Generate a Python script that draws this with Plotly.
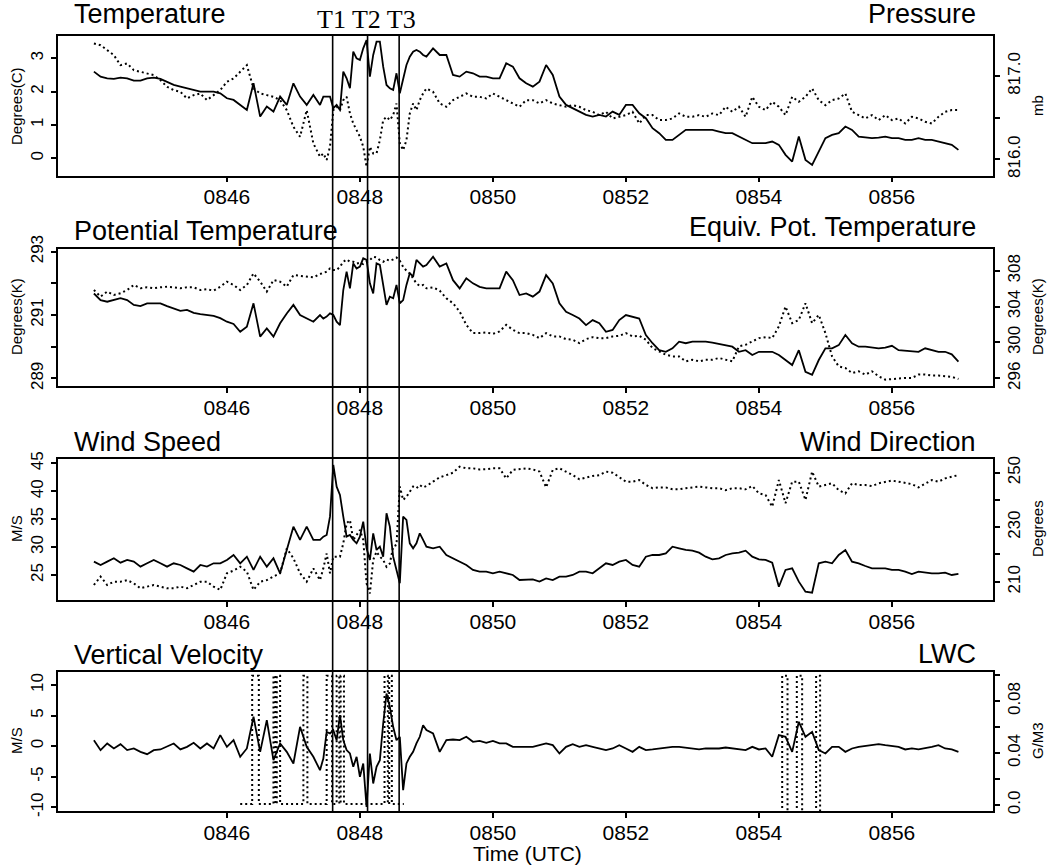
import numpy as np
import plotly.graph_objects as go

# ---------------- data (time in minutes after 08:00 UTC) ----------------
time_min = np.round(np.concatenate([
    np.arange(44.0, 47.41, 0.1),     # 35 samples
    np.arange(47.45, 49.01, 0.05),   # 32 samples
    np.arange(49.1, 57.01, 0.1),     # 80 samples
]), 2)

x_tick_vals = [46, 48, 50, 52, 54, 56]
x_tick_text = ["0846", "0848", "0850", "0852", "0854", "0856"]
event_times = [47.59, 48.115, 48.59]   # T1, T2, T3

temperature_c = [
    2.6, 2.45, 2.4, 2.38, 2.42, 2.4, 2.33, 2.33, 2.4, 2.42,
    2.38, 2.3, 2.2, 2.15, 2.1, 2.05, 2.0, 2.0, 2.0, 1.95,
    1.8, 1.75, 1.6, 1.45, 2.25, 1.25, 1.55, 1.4, 1.85, 1.6,
    2.25, 1.85, 1.6, 1.9, 1.6,
    1.85, 1.85, 1.85, 1.5, 1.6, 1.45, 2.6, 2.4, 2.1, 3.2,
    3.0, 2.95, 3.3, 3.55, 2.45, 3.1, 3.5, 3.5, 2.75, 2.2,
    2.1, 2.05, 2.55, 1.95, 2.4, 2.8, 3.05, 3.2, 3.25, 3.2,
    3.1, 3.05,
    3.3, 3.1, 3.1, 2.5, 2.45, 2.6, 2.55, 2.45, 2.45, 2.4,
    2.4, 2.85, 2.75, 2.4, 2.25, 2.15, 2.3, 2.8, 2.5, 1.85,
    1.6, 1.5, 1.4, 1.3, 1.25, 1.3, 1.25, 1.4, 1.3, 1.6,
    1.6, 1.35, 1.2, 0.9, 0.75, 0.55, 0.55, 0.7, 0.85, 0.85,
    0.85, 0.85, 0.85, 0.8, 0.75, 0.75, 0.65, 0.55, 0.45, 0.45,
    0.45, 0.5, 0.4, 0.1, -0.1, 0.65, -0.05, -0.2, 0.2, 0.6,
    0.7, 0.75, 0.95, 0.85, 0.65, 0.62, 0.6, 0.62, 0.65, 0.6,
    0.6, 0.55, 0.55, 0.6, 0.55, 0.55, 0.5, 0.45, 0.4, 0.25,
]

pressure_mb = [
    817.39, 817.37, 817.31, 817.25, 817.13, 817.15, 817.07, 817.05, 817.03, 817.01,
    816.95, 816.87, 816.83, 816.81, 816.73, 816.77, 816.79, 816.71, 816.77, 816.83,
    816.93, 816.97, 817.05, 817.13, 816.85, 816.79, 816.77, 816.75, 816.71, 816.59,
    816.39, 816.27, 816.59, 816.19, 816.03,
    816.07, 815.99, 816.15, 816.59, 816.63, 816.59, 816.71, 816.75, 816.55, 816.43,
    816.35, 816.27, 816.15, 815.91, 816.15, 816.07, 816.07, 816.23, 816.47, 816.51,
    816.47, 816.53, 816.67, 816.19, 816.11, 816.23, 816.55, 816.67, 816.59, 816.71,
    816.79, 816.85,
    816.81, 816.67, 816.63, 816.71, 816.75, 816.79, 816.75, 816.75, 816.73, 816.79,
    816.75, 816.71, 816.67, 816.63, 816.71, 816.71, 816.67, 816.71, 816.67, 816.65,
    816.63, 816.65, 816.63, 816.59, 816.57, 816.53, 816.57, 816.49, 816.51, 816.53,
    816.57, 816.43, 816.53, 816.53, 816.47, 816.47, 816.49, 816.55, 816.51, 816.51,
    816.53, 816.51, 816.55, 816.53, 816.63, 816.57, 816.63, 816.51, 816.75, 816.63,
    816.59, 816.69, 816.63, 816.53, 816.75, 816.69, 816.75, 816.85, 816.71, 816.65,
    816.71, 816.73, 816.79, 816.57, 816.53, 816.49, 816.53, 816.47, 816.53, 816.47,
    816.49, 816.43, 816.51, 816.49, 816.45, 816.43, 816.51, 816.57, 816.59, 816.59,
]

pot_temp_k = [
    291.68, 291.47, 291.42, 291.47, 291.53, 291.47, 291.32, 291.28, 291.37, 291.37,
    291.37, 291.28, 291.21, 291.13, 291.16, 291.07, 291.03, 291.0, 290.97, 290.9,
    290.79, 290.72, 290.47, 290.63, 291.37, 290.32, 290.58, 290.32, 290.74, 291.05,
    291.32, 291.0, 290.9, 290.79, 291.0,
    290.89, 290.95, 291.05, 291.0, 290.79, 290.68, 291.79, 292.37, 291.84, 292.63,
    292.47, 292.53, 292.79, 292.74, 292.0, 291.68, 292.63, 292.58, 291.89, 291.32,
    291.58, 291.53, 291.95, 291.37, 291.47, 291.95, 292.32, 292.21, 292.74, 292.63,
    292.53, 292.58,
    292.84, 292.53, 292.63, 292.1, 291.84, 292.16, 292.0, 291.89, 291.84, 291.84,
    291.84, 292.37, 292.1, 291.63, 291.68, 291.58, 291.74, 292.26, 292.0, 291.37,
    291.1, 291.0, 290.89, 290.68, 290.84, 290.74, 290.47, 290.53, 290.84, 291.0,
    290.95, 290.89, 290.37, 290.11, 289.89, 289.84, 289.95, 290.16, 290.11, 290.16,
    290.16, 290.16, 290.13, 290.08, 290.05, 290.0, 289.84, 289.89, 289.74, 289.84,
    289.84, 289.84, 289.74, 289.58, 289.42, 289.89, 289.21, 289.11, 289.58, 289.95,
    289.95, 290.05, 290.37, 290.11, 290.0, 290.0, 289.97, 289.95, 289.97, 290.03,
    289.89, 289.87, 289.84, 289.84, 289.95, 289.89, 289.84, 289.84, 289.76, 289.53,
]

eq_pot_temp_k = [
    305.85, 305.11, 305.67, 305.3, 305.48, 305.85, 306.41, 306.04, 306.15, 306.04,
    306.15, 306.22, 306.15, 306.04, 306.15, 306.15, 305.85, 305.93, 305.78, 306.22,
    306.78, 306.41, 305.85, 306.41, 307.7, 306.78, 305.67, 306.96, 306.78, 306.22,
    307.52, 307.41, 307.33, 307.26, 307.63,
    307.78, 307.89, 308.26, 308.07, 308.07, 308.44, 309.0, 309.26, 309.0, 309.0,
    308.81, 308.89, 308.74, 309.0, 309.19, 309.56, 309.48, 309.19, 309.0, 309.26,
    309.11, 309.26, 309.48, 309.11, 308.44, 308.0, 307.7, 307.15, 306.59, 306.3,
    306.41, 306.04,
    306.15, 305.78, 304.93, 304.37, 303.44, 301.96, 301.04, 301.04, 301.11, 300.96,
    301.22, 301.96, 301.41, 301.04, 301.04, 300.85, 300.48, 301.04, 300.67, 300.67,
    300.37, 300.3, 299.93, 300.37, 300.59, 300.48, 300.48, 300.67, 300.74, 301.04,
    300.67, 300.74, 300.3, 299.37, 299.0, 298.63, 298.44, 298.44, 297.89, 298.07,
    297.89, 298.07, 298.07, 298.26, 298.07, 297.89, 299.56, 299.74, 300.11, 300.48,
    300.59, 300.48, 301.78, 304.0, 302.15, 302.5, 304.37, 302.15, 303.07, 301.04,
    298.44, 297.33, 297.15, 296.59, 296.78, 296.41, 296.78, 296.22, 295.85, 295.93,
    295.93, 296.04, 296.04, 296.41, 296.41, 296.3, 296.3, 296.22, 296.15, 295.93,
]

wind_speed_ms = [
    27.39, 26.79, 27.39, 27.99, 27.21, 27.69, 27.39, 26.49, 27.09, 27.69,
    27.09, 26.49, 27.09, 26.79, 26.19, 25.6, 26.79, 26.49, 27.09, 27.09,
    27.69, 28.58, 27.09, 28.28, 25.9, 28.28, 26.49, 27.99, 25.3, 29.48,
    33.66, 31.27, 33.66, 31.27, 31.27,
    31.87, 32.16, 35.45, 44.7, 40.82, 39.33, 35.45, 31.87, 32.16, 31.27,
    30.67, 31.87, 34.55, 29.78, 27.69, 32.46, 29.48, 30.07, 28.28, 36.04,
    33.66, 28.28, 25.9, 23.51, 35.45, 34.85, 30.67, 29.78, 30.67, 32.46,
    31.27, 30.07,
    29.78, 30.07, 28.58, 27.99, 27.39, 26.79, 25.9, 25.6, 25.6, 25.3,
    25.6, 25.3, 25.0, 24.1, 24.1, 24.22, 23.81, 24.4, 24.1, 24.7,
    24.7, 25.0, 25.6, 25.6, 25.3, 26.19, 27.09, 26.79, 27.39, 27.69,
    26.79, 26.49, 28.28, 28.58, 28.58, 28.88, 30.07, 29.78, 29.48, 29.36,
    29.0, 28.28, 27.81, 27.99, 28.58, 28.88, 29.0, 29.36, 28.28, 27.81,
    27.69, 27.21, 22.9, 25.9, 26.19, 23.81, 22.0, 21.82, 27.09, 27.39,
    27.09, 28.58, 29.48, 27.39, 27.09, 26.61, 26.19, 26.19, 26.19, 25.9,
    25.9, 25.6, 25.18, 25.6, 25.42, 25.3, 25.3, 25.42, 25.0, 25.18,
]

wind_dir_deg = [
    208.8, 211.9, 208.8, 210.0, 210.0, 210.6, 209.4, 207.6, 208.2, 208.8,
    208.2, 207.6, 207.6, 208.2, 207.6, 208.8, 210.0, 210.0, 208.2, 207.0,
    213.1, 214.1, 215.5, 213.7, 207.0, 210.0, 210.6, 211.9, 213.1, 222.2,
    218.6, 213.1, 210.0, 214.9, 210.6,
    214.9, 220.4, 213.1, 219.2, 219.2, 219.2, 224.1, 231.4, 232.6, 225.3,
    227.1, 229.0, 225.3, 209.4, 205.7, 218.0, 221.0, 219.2, 218.0, 215.5,
    216.7, 222.9, 223.5, 244.9, 240.0, 241.2, 243.0, 244.9, 244.3, 245.5,
    244.6, 245.1,
    246.7, 248.3, 249.1, 250.0, 252.2, 251.6, 251.6, 251.2, 251.3, 251.6,
    251.6, 247.9, 251.0, 251.2, 251.6, 251.2, 250.4, 244.6, 251.0, 251.6,
    250.4, 249.1, 247.6, 248.3, 248.8, 249.1, 250.4, 250.0, 248.3, 246.7,
    246.7, 247.3, 245.5, 244.3, 244.6, 244.6, 243.9, 243.9, 244.3, 244.6,
    244.9, 244.6, 244.3, 244.3, 243.6, 244.3, 244.3, 243.9, 245.1, 242.4,
    241.8, 237.5, 247.3, 238.8, 246.7, 246.7, 240.0, 250.4, 244.9, 245.5,
    246.1, 243.6, 242.4, 246.1, 245.5, 245.5, 245.1, 246.1, 246.7, 247.1,
    246.7, 246.3, 245.8, 244.6, 246.1, 247.3, 246.7, 247.9, 248.5, 249.1,
]

vert_vel_ms = [
    0.98, -0.65, 0.44, -0.38, 0.33, -0.65, -0.38, -0.93, -1.31, -0.65,
    -0.54, -0.11, 0.44, -0.54, -0.11, 0.54, -0.38, 0.44, -0.38, 1.8,
    -0.11, 0.98, -1.74, -0.38, 4.8, -0.93, 4.25, -2.29, 0.44, -0.93,
    -2.83, 3.16, -0.11, -1.74, -3.92,
    -2.02, 2.34, 2.07, 2.62, 0.98, 5.07, 0.98, -0.65, -1.2, -3.38,
    -1.74, -5.01, -2.83, -9.92, -1.2, -6.1, -3.38, -2.29, 3.71, 8.61,
    6.43, 3.16, 0.98, 1.53, -7.19, -2.83, -1.74, -0.93, 0.44, 1.53,
    3.43, 2.62,
    2.07, -0.93, 0.98, 1.09, 0.98, 1.53, 0.71, 0.87, 0.54, 0.87,
    0.44, 0.44, -0.11, -0.11, -0.11, -0.11, 0.16, 0.44, 0.16, -1.2,
    -0.11, 0.33, -0.11, 0.16, -0.11, -0.38, -0.65, -0.38, 0.16, -0.38,
    -0.93, -0.11, -0.65, -0.54, -0.38, -0.22, -0.11, -0.11, -0.22, -0.38,
    -0.54, -0.38, -0.38, -0.38, -0.22, -0.38, -0.54, -0.65, -0.11, -0.54,
    -0.38, -1.74, 1.8, 1.53, -0.93, 3.98, 1.53, 2.34, -0.65, -1.2,
    -0.11, -0.11, -0.93, -0.38, -0.11, 0.0, 0.16, 0.33, 0.16, 0.0,
    -0.11, -0.54, -0.38, -0.54, -0.38, -0.11, 0.16, -0.38, -0.54, -0.93,
]

# liquid water content: pulses that saturate the probe (None = no data shown)
lwc_time = [
    46.20, 46.38, 46.38, 46.48, 46.48, 46.70, 46.70, 46.73, 46.73, 46.75, 46.75, 46.80, 46.80,
    47.15, 47.15, 47.21, 47.21, 47.50, 47.50, 47.58, 47.58,
    47.65, 47.65, 47.69, 47.69, 47.71, 47.71, 47.76, 47.76,
    48.37, 48.37, 48.42, 48.42, 48.44, 48.44, 48.48, 48.48, 48.66,
    None,
    54.35, 54.35, 54.43, 54.43, None,
    54.57, 54.57, 54.65, 54.65, None,
    54.86, 54.86, 54.92, 54.92,
]
lwc_gm3 = [
    0.0008, 0.0008, 0.0995, 0.0995, 0.0008, 0.0008, 0.0995, 0.0995, 0.0008, 0.0008, 0.0995, 0.0995, 0.0008,
    0.0008, 0.0995, 0.0995, 0.0008, 0.0008, 0.0995, 0.0995, 0.0008,
    0.0008, 0.0995, 0.0995, 0.0008, 0.0008, 0.0995, 0.0995, 0.0008,
    0.0008, 0.0995, 0.0995, 0.0008, 0.0008, 0.0995, 0.0995, 0.0008, 0.0008,
    None,
    -0.01, 0.0995, 0.0995, -0.01, None,
    -0.01, 0.0995, 0.0995, -0.01, None,
    -0.01, 0.0995, 0.0995, -0.01,
]

panel_titles_left = ["Temperature", "Potential Temperature", "Wind Speed", "Vertical Velocity"]
panel_titles_right = ["Pressure", "Equiv. Pot. Temperature", "Wind Direction", "LWC"]
left_units = ["Degrees(C)", "Degrees(K)", "M/S", "M/S"]
right_units = ["mb", "Degrees(K)", "Degrees", "G/M3"]

# ---------------- geometry helpers (window pixels) ----------------
FIG_W, FIG_H = 1055, 865
ML, MT = 58, 36
MR = FIG_W - 993
MB = FIG_H - 811
PW = FIG_W - ML - MR
PH = FIG_H - MT - MB


def pxx(xp):
    return (xp - ML) / PW


def pxy(yp):
    return (FIG_H - MB - yp) / PH


panel_px = [(36, 175.5), (248.5, 386), (458.5, 600), (671.7, 811)]
domains = [[max(0.0, pxy(b)), min(1.0, pxy(t))] for t, b in panel_px]

left_ranges = [[-0.52, 3.67], [288.76, 293.10], [20.52, 45.86], [-10.6, 12.17]]
right_ranges = [[815.805, 817.48], [295.14, 310.48], [203.3, 255.2], [-0.00465, 0.1026]]
left_ticks = [([0, 1, 2, 3], ["0", "1", "2", "3"]),
              ([289, 290, 291, 292, 293], ["289", "", "291", "", "293"]),
              ([25, 30, 35, 40, 45], ["25", "30", "35", "40", "45"]),
              ([-10, -5, 0, 5, 10], ["-10", "-5", "0", "5", "10"])]
right_ticks = [([816.0, 816.5, 817.0], ["816.0", "", "817.0"]),
               ([296, 300, 304, 308], ["296", "300", "304", "308"]),
               ([210, 220, 230, 240, 250], ["210", "", "230", "", "250"]),
               ([0.0, 0.02, 0.04, 0.06, 0.08, 0.10], ["0.0", "", "0.04", "", "0.08", ""])]

solid_series = [temperature_c, pot_temp_k, wind_speed_ms, vert_vel_ms]
dotted_series = [(time_min, pressure_mb), (time_min, eq_pot_temp_k),
                 (time_min, wind_dir_deg), (lwc_time, lwc_gm3)]

SANS = "Liberation Sans, Arial, sans-serif"
SERIF = "Liberation Serif, Times New Roman, serif"

fig = go.Figure()
layout = dict(
    width=FIG_W, height=FIG_H,
    margin=dict(l=ML, r=MR, t=MT, b=MB, autoexpand=False),
    paper_bgcolor="white", plot_bgcolor="white",
    showlegend=False,
    font=dict(family=SANS, color="black"),
)

for i in range(4):
    xa = "x" if i == 0 else f"x{i + 1}"
    yl = f"y{2 * i + 1}" if i > 0 else "y"
    yr = f"y{2 * i + 2}"
    xkey = "xaxis" if i == 0 else f"xaxis{i + 1}"
    ylkey = "yaxis" if i == 0 else f"yaxis{2 * i + 1}"
    yrkey = f"yaxis{2 * i + 2}"

    layout[xkey] = dict(
        domain=[0, 1], anchor=yl, range=[43.46, 57.52],
        tickmode="array", tickvals=x_tick_vals, ticktext=x_tick_text,
        ticks="outside", ticklen=5, tickwidth=1.5, tickcolor="black",
        showline=True, linecolor="black", linewidth=1.5, mirror=True,
        showgrid=False, zeroline=False, automargin=False, ticklabelstandoff=-3,
        tickfont=dict(family=SANS, size=21, color="black"),
    )
    if i > 0:
        layout[xkey]["matches"] = "x"
    layout[ylkey] = dict(
        domain=domains[i], anchor=xa, side="left", range=left_ranges[i],
        tickmode="array", tickvals=left_ticks[i][0], ticktext=left_ticks[i][1],
        tickangle=-90, ticks="outside", ticklen=5, tickwidth=1.5, tickcolor="black",
        showline=True, linecolor="black", linewidth=1.5,
        showgrid=False, zeroline=False, automargin=False, ticklabelstandoff=1,
        tickfont=dict(family=SANS, size=17, color="black"),
    )
    layout[yrkey] = dict(
        overlaying=yl, anchor=xa, side="right", range=right_ranges[i],
        tickmode="array", tickvals=right_ticks[i][0], ticktext=right_ticks[i][1],
        tickangle=-90, ticks="outside", ticklen=5, tickwidth=1.5, tickcolor="black",
        showline=True, linecolor="black", linewidth=1.5,
        showgrid=False, zeroline=False, automargin=False,
        tickfont=dict(family=SANS, size=17, color="black"),
    )

    fig.add_trace(go.Scatter(x=time_min, y=solid_series[i], mode="lines", xaxis=xa, yaxis=yl,
                             line=dict(color="black", width=1.8), connectgaps=False))
    dx, dy = dotted_series[i]
    fig.add_trace(go.Scatter(x=dx, y=dy, mode="lines", xaxis=xa, yaxis=yr,
                             line=dict(color="black", width=2, dash="2px,3px"), connectgaps=False))

fig.update_layout(**layout)

# event lines T1, T2, T3 spanning all panels
for t in event_times:
    fig.add_shape(type="line", xref="x", yref="paper", x0=t, x1=t, y0=0, y1=1,
                  line=dict(color="black", width=1.6), layer="above")

ann = []
title_y_left = [14, 231, 442, 655]
title_y_right = [14, 227, 442, 654]
unit_y = [106, 317, 529, 741]
for i in range(4):
    ann.append(dict(text=panel_titles_left[i], x=pxx(72), y=pxy(title_y_left[i]), xref="paper", yref="paper",
                    xanchor="left", yanchor="middle", showarrow=False,
                    font=dict(family=SANS, size=27, color="black")))
    ann.append(dict(text=panel_titles_right[i], x=pxx(978), y=pxy(title_y_right[i]), xref="paper", yref="paper",
                    xanchor="right", yanchor="middle", showarrow=False,
                    font=dict(family=SANS, size=27, color="black")))
    ann.append(dict(text=left_units[i], x=pxx(16), y=pxy(unit_y[i]), xref="paper", yref="paper",
                    xanchor="center", yanchor="middle", showarrow=False, textangle=-90,
                    font=dict(family=SANS, size=15, color="black")))
    ann.append(dict(text=right_units[i], x=pxx(1037), y=pxy(unit_y[i]), xref="paper", yref="paper",
                    xanchor="center", yanchor="middle", showarrow=False, textangle=-90,
                    font=dict(family=SANS, size=15, color="black")))

ann.append(dict(text="T1 T2 T3", x=pxx(366), y=pxy(20), xref="paper", yref="paper",
                xanchor="center", yanchor="middle", showarrow=False,
                font=dict(family=SERIF, size=26, color="black")))
ann.append(dict(text="Time (UTC)", x=pxx(527), y=pxy(853), xref="paper", yref="paper",
                xanchor="center", yanchor="middle", showarrow=False,
                font=dict(family=SANS, size=21, color="black")))
fig.update_layout(annotations=ann)

# remove the browser's default 8 px page margin so the figure fills the window exactly
fig.write_html("out.html", config={"displayModeBar": False},
               post_script="document.body.style.margin='0px';")
